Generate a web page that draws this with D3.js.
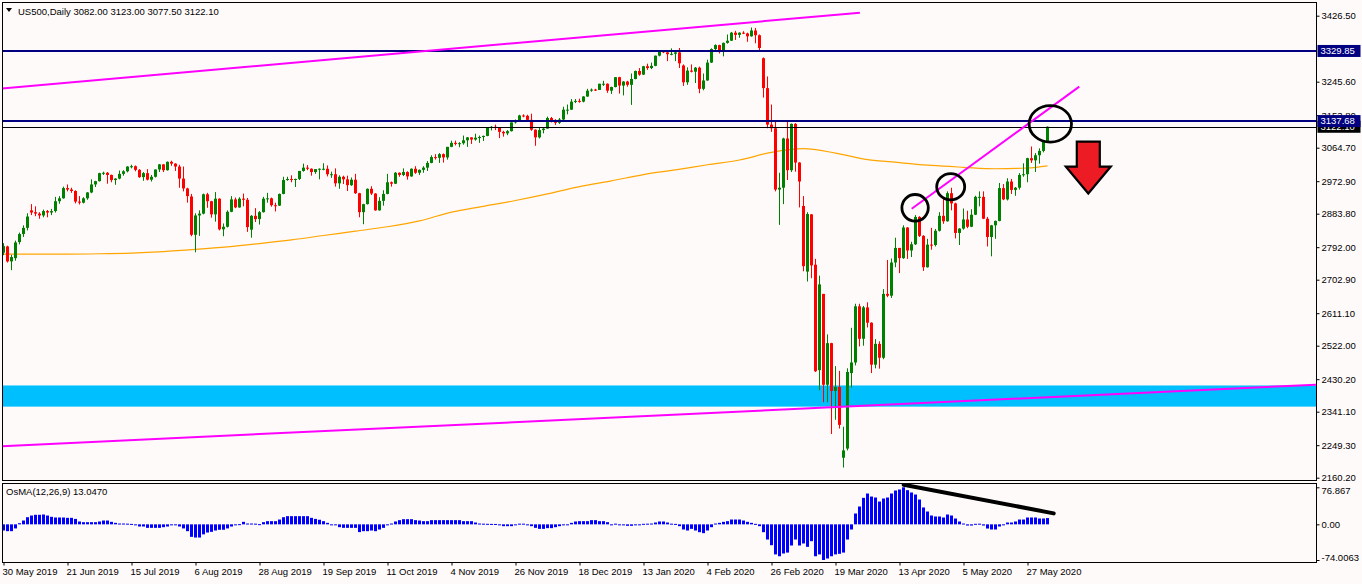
<!DOCTYPE html>
<html><head><meta charset="utf-8">
<script src="https://cdn.jsdelivr.net/npm/d3@7"></script>
<style>
body{margin:0;background:#fffafa;}
svg{display:block;}
text{font-family:"Liberation Sans",Arial,sans-serif;}
</style>
</head><body>
<svg id="chart" width="1362" height="584"></svg>
<script>
// ---------------- DATA ----------------
const symbolTitle = "US500,Daily";
const lastOHLC = ["3082.00", "3123.00", "3077.50", "3122.10"];
const osmaTitle = "OsMA(12,26,9) 13.0470";

const tickBars = [0,16,32,48,64,80,96,112,128,144,160,176,192,208,224,240,256];
const dateLabels = ["30 May 2019","21 Jun 2019","15 Jul 2019","6 Aug 2019","28 Aug 2019","19 Sep 2019",
  "11 Oct 2019","4 Nov 2019","26 Nov 2019","18 Dec 2019","13 Jan 2020","4 Feb 2020","26 Feb 2020",
  "19 Mar 2020","13 Apr 2020","5 May 2020","27 May 2020"];

const opens = [
2777,2794,2753,2762,2806,2828,2845,2893,2888,2884,
2879,2891,2887,2891,2918,2926,2954,2950,2946,2917,
2914,2926,2942,2964,2973,2995,2996,2990,2976,2980,
2993,3000,3013,3014,3004,2984,2995,2977,2985,3005,
3019,3003,3026,3021,3013,2980,2953,2931,2826,2879,
2884,2937,2918,2882,2925,2841,2848,2889,2923,2901,
2925,2922,2840,2878,2869,2888,2925,2926,2907,2906,
2938,2976,2979,2978,2979,3001,3010,3007,2998,3006,
3007,3007,2992,2992,2967,2985,2978,2962,2977,2940,
2888,2910,2952,2939,2893,2919,2938,2970,2966,2996,
2990,2998,2986,3007,2996,3004,3010,3023,3039,3037,
3047,3038,3067,3078,3075,3077,3085,3093,3087,3092,
3094,3097,3120,3122,3120,3108,3104,3110,3134,3140,
3153,3152,3141,3114,3093,3113,3117,3146,3136,3133,
3142,3169,3169,3191,3193,3191,3205,3221,3224,3223,
3240,3240,3221,3231,3258,3235,3246,3237,3253,3275,
3265,3288,3283,3289,3317,3330,3326,3321,3322,3326,
3290,3244,3276,3273,3284,3226,3249,3298,3335,3346,
3328,3352,3358,3380,3374,3380,3378,3370,3386,3373,
3310,3228,3128,3118,2950,2955,3090,3003,3130,3024,
2905,2725,2882,2744,2455,2664,2415,2529,2398,2409,
2215,2240,2447,2476,2630,2541,2627,2585,2470,2527,
2489,2664,2659,2750,2790,2762,2846,2783,2800,2875,
2823,2737,2799,2798,2837,2878,2863,2940,2912,2831,
2843,2868,2848,2881,2930,2930,2870,2820,2852,2864,
2954,2923,2972,2949,2955,2990,2992,3036,3030,3044,
3056,3082];

const highs = [
2803,2796,2771,2810,2832,2852,2885,2910,2904,2888,
2895,2894,2897,2930,2932,2958,2964,2955,2948,2932,
2929,2943,2978,2974,2996,2999,2998,2991,2981,3002,
3003,3014,3018,3016,3006,2998,3006,2990,3005,3020,
3020,3027,3029,3022,3018,3013,2955,2938,2885,2893,
2939,2941,2919,2943,2926,2857,2893,2932,2928,2929,
2939,2927,2880,2899,2891,2930,2941,2928,2914,2939,
2985,2985,2989,2980,3001,3021,3017,3008,3006,3008,
3022,3016,2999,3008,2989,2988,2988,2983,2993,2941,
2911,2953,2959,2940,2929,2948,2993,2972,2998,2997,
3008,3000,3008,3014,3005,3014,3028,3044,3047,3050,
3049,3067,3084,3084,3080,3098,3094,3093,3103,3098,
3098,3121,3124,3128,3121,3111,3113,3134,3142,3155,
3156,3155,3158,3115,3120,3120,3150,3149,3143,3146,
3177,3183,3198,3198,3199,3206,3226,3227,3226,3240,
3248,3241,3232,3258,3259,3247,3248,3268,3276,3283,
3289,3295,3298,3317,3330,3332,3329,3337,3327,3338,
3293,3285,3293,3286,3287,3268,3306,3337,3348,3347,
3353,3375,3382,3385,3381,3384,3380,3394,3393,3375,
3312,3260,3183,3140,2996,3092,3137,3131,3132,3025,
2932,2888,2883,2760,2714,2664,2553,2530,2466,2453,
2300,2460,2571,2637,2637,2631,2641,2586,2540,2534,
2677,2757,2761,2818,2790,2852,2847,2807,2880,2877,
2825,2815,2845,2842,2888,2926,2945,2955,2914,2844,
2898,2892,2896,2933,2945,2945,2875,2853,2865,2968,
2965,2981,2979,2957,2995,3022,3037,3068,3050,3063,
3082,3123];

const lows = [
2770,2750,2729,2755,2800,2820,2838,2880,2877,2870,
2874,2874,2880,2887,2911,2925,2945,2941,2912,2909,
2912,2922,2940,2957,2972,2990,2966,2970,2963,2978,
2988,2997,3008,3000,2982,2974,2975,2972,2983,2998,
2998,3002,3015,3001,2955,2945,2914,2822,2778,2823,
2882,2900,2873,2862,2838,2822,2846,2888,2899,2900,
2904,2834,2818,2861,2854,2887,2914,2903,2890,2905,
2937,2974,2970,2957,2976,2999,3003,2988,2993,2978,
3003,2986,2982,2958,2952,2965,2946,2960,2938,2874,
2855,2909,2935,2892,2892,2906,2937,2958,2965,2985,
2987,2977,2985,2993,2990,2996,3001,3022,3032,3023,
3024,3032,3066,3071,3066,3073,3067,3075,3084,3078,
3083,3096,3112,3113,3091,3095,3099,3109,3131,3139,
3148,3137,3111,3070,3090,3104,3117,3134,3127,3130,
3137,3156,3168,3187,3188,3189,3204,3218,3220,3223,
3234,3215,3212,3230,3213,3208,3232,3182,3252,3262,
3264,3278,3280,3288,3315,3324,3302,3318,3302,3283,
3234,3237,3271,3242,3214,3222,3248,3297,3332,3323,
3315,3350,3357,3360,3366,3376,3355,3369,3351,3329,
3202,3118,3108,2945,2853,2910,2976,2998,2999,2901,
2726,2698,2707,2450,2400,2367,2367,2280,2319,2295,
2188,2235,2407,2468,2520,2522,2572,2447,2460,2459,
2485,2655,2653,2737,2721,2760,2760,2765,2798,2820,
2727,2736,2785,2794,2835,2856,2862,2893,2816,2798,
2840,2844,2847,2880,2904,2869,2794,2767,2815,2863,
2921,2920,2938,2933,2950,2985,2970,3023,2998,3021,
3052,3077.5];

const closes = [
2795,2753,2765,2805,2828,2845,2876,2887,2884,2879,
2891,2887,2891,2918,2926,2954,2950,2946,2917,2914,
2926,2942,2964,2973,2995,2996,2990,2976,2980,2993,
3000,3013,3014,3004,2984,2995,2977,2985,3005,3019,
3003,3026,3021,3013,2980,2953,2932,2826,2879,2884,
2937,2918,2882,2925,2841,2848,2889,2923,2901,2925,
2922,2847,2878,2869,2888,2925,2926,2907,2906,2938,
2976,2979,2978,2979,3001,3010,3007,2998,3006,3007,
3007,2992,2992,2967,2985,2978,2962,2977,2940,2888,
2910,2952,2939,2893,2919,2938,2970,2966,2996,2990,
2998,2986,3007,2996,3004,3010,3023,3039,3037,3047,
3038,3067,3078,3075,3077,3085,3093,3087,3092,3094,
3097,3120,3122,3120,3108,3104,3110,3134,3140,3153,
3152,3141,3114,3093,3113,3117,3146,3136,3133,3142,
3169,3169,3191,3193,3191,3205,3221,3224,3223,3240,
3240,3221,3231,3258,3235,3246,3237,3253,3275,3265,
3288,3283,3289,3317,3330,3326,3321,3322,3326,3296,
3244,3276,3273,3284,3226,3249,3298,3335,3346,3328,
3352,3358,3380,3374,3380,3378,3370,3386,3373,3338,
3228,3128,3118,2950,2955,3090,3003,3130,3024,2972,
2740,2883,2742,2452,2690,2415,2529,2398,2409,2305,
2235,2450,2476,2630,2541,2627,2585,2470,2527,2489,
2664,2659,2750,2790,2762,2846,2783,2800,2875,2823,
2737,2799,2798,2837,2878,2863,2940,2912,2831,2843,
2868,2848,2881,2930,2930,2870,2820,2852,2864,2954,
2923,2972,2949,2955,2990,2992,3036,3030,3044,3056,
3082,3122.1];

const osma = [
-12.8,-14.2,-14.2,-8.5,2.4,7.9,14.8,18.3,19.8,19.8,
20.4,18.3,15.6,14.2,14.2,14.2,13.5,13.5,11.3,5.9,
4.5,4.5,4.5,4.5,5.9,7.9,7.9,5.2,3.1,1.7,
1.7,1.4,0.9,-0.5,-4.5,-4.5,-7.3,-7.3,-7.3,-7.3,
-5.9,-4.5,-1.7,-0.5,-4.5,-8.5,-14.2,-26,-27.4,-27.4,
-20.8,-17,-15.6,-12.8,-11.3,-11.3,-8.5,-4.5,-1.7,0.4,
5.2,1.7,1.7,1.4,0.4,4.5,6.6,6.6,6.6,10,
14.8,17,17,17,17,17,17,13.5,11.3,9.5,
6.6,3.1,-0.5,-1.7,-5.9,-7.3,-7.3,-7.3,-7.3,-16.1,
-14.2,-14.2,-12.8,-14.2,-10.7,-7.3,-1.7,1.7,5.9,8.7,
10.7,10.7,10.7,8.7,7.9,6.6,6.6,8.7,8.7,8.7,
8.7,8.7,8.7,8.7,8.7,6.6,6.6,6.6,3.8,1.7,
1.4,1.1,0.9,0.8,-1.7,-3.8,-3.8,-3.8,-1.7,1.4,
1.4,-0.9,-3.8,-7.3,-9.4,-9.4,-7.9,-7.9,-5.9,-3.8,
-1.7,-0.8,3.1,5.9,6.6,6.6,6.6,8.7,8.7,6.6,
6.6,4.5,-0.8,1.4,-0.8,-0.9,-3.1,-3.1,-0.9,-0.9,
1.1,1.4,1.7,3.8,5.9,5.9,3.8,1.4,0.9,-3.8,
-10.7,-12.8,-9.4,-12.8,-16.3,-18.3,-12.8,-5.9,1.7,3.1,
5.2,6.6,10,10,10,7.9,5.2,3.1,1,-3.8,
-16.3,-31.5,-43.3,-62.4,-66.2,-60.5,-58.6,-43.9,-31.5,-43.9,
-39.7,-46.7,-35,-66.2,-62.4,-74.0063,-70.9,-66.2,-62.4,-61.2,
-58.6,-31.5,-10.7,22.5,37,55,64,57.7,55.7,47.3,
53.6,55.7,64,70.2,72.3,76.867,70.9,66.1,61.9,51.5,
35,26.6,18.3,16.3,16.3,14.2,20.4,18.3,12.1,5.9,
1.7,-2.5,-2.5,1.1,1.4,-2.5,-8.7,-10.7,-10.7,-4.5,
-1.7,3.8,3.8,5.9,10,10,14.2,14.2,14.2,12.1,
12.1,13.047];

// 200-period moving average read at sample bars
const maBars   = [0,8,16,24,32,40,48,56,64,72,80,88,96,104,112,120,128,136,144,152,160,168,176,184,192,200,208,216,224,232,240,248,256,261];
const maValues = [2773,2773,2773,2774,2776,2780,2786,2793,2802,2812,2824,2836,2848,2864,2888,2904,2920,2938,2958,2974,2991,3004,3018,3031,3052,3062,3050,3032,3024,3016,3011,3007,3009,3015];

const priceTicks = [3426.50,3245.60,3153.80,3064.70,2972.90,2883.80,2792.00,2702.90,2611.10,2522.00,2430.20,2341.10,2249.30,2160.20];
const osmaTicks = [76.867, 0, -74.0063];
const osmaTickLabels = ["76.867", "0.00", "-74.0063"];
const levelLines = [3329.85, 3137.68];
const bidPrice = 3122.10;
const supportZone = [2355, 2413];
const channelUpper = [[-0.4, 3227], [214.1, 3434.7]];
const channelLower = [[-0.4, 2246.6], [328.1, 2415.3]];
const wedgeLine = [[227.05, 2897.3], [268.95, 3232.1]];
// [bar, price, radius in bars, radius in price]
const circles = [[227.9, 2900, 3.3, 36.4], [236.8, 2957.6, 3.5, 36], [261.7, 3130, 5.3, 50]];
const arrowAnchor = [271.2, 3081.6];
const osmaTrend = [[225.05, 82.2], [262.55, 22.8]];

// ---------------- LAYOUT ----------------
const W = 1362, H = 584;
const L = 2.5, R = 1316.5, T = 2.5, MB = 480.5, OT = 483.5, OB = 562.5;

const svg = d3.select("#chart");
svg.append("rect").attr("width", W).attr("height", H).attr("fill", "#fffafa");

const x = d3.scaleLinear().domain([0, 261]).range([3.5, 1047.5]);
const y = d3.scaleLinear().domain([2160.2, 3426.5]).range([477.7, 15.7]);
const yo = d3.scaleLinear().domain([-74.0063, 76.867]).range([560, 487.3]);

const defs = svg.append("defs");
defs.append("clipPath").attr("id", "mainClip").append("rect")
  .attr("x", L).attr("y", T).attr("width", R - L).attr("height", MB - T);
defs.append("clipPath").attr("id", "oscClip").append("rect")
  .attr("x", L).attr("y", OT).attr("width", R - L).attr("height", OB - OT);

const main = svg.append("g").attr("clip-path", "url(#mainClip)");

// support zone
main.append("rect")
  .attr("x", L).attr("width", R - L)
  .attr("y", y(supportZone[1])).attr("height", y(supportZone[0]) - y(supportZone[1]))
  .attr("fill", "#00bfff");

// moving average
const maPts = maBars.map((b, i) => [b, maValues[i]]);
main.append("path").datum(maPts)
  .attr("d", d3.line().x(d => x(d[0])).y(d => y(d[1])).curve(d3.curveMonotoneX))
  .attr("fill", "none").attr("stroke", "#ffa500").attr("stroke-width", 1.2);

// candles
const bars = closes.map((c, i) => ({ i, o: opens[i], h: highs[i], l: lows[i], c }));
const cg = main.append("g");
cg.selectAll("line").data(bars).join("line")
  .attr("x1", d => x(d.i)).attr("x2", d => x(d.i))
  .attr("y1", d => y(d.h)).attr("y2", d => y(d.l))
  .attr("stroke", d => d.c >= d.o ? "#008000" : "#ff0000").attr("stroke-width", 1);
cg.selectAll("rect").data(bars).join("rect")
  .attr("x", d => x(d.i) - 1.5).attr("width", 3)
  .attr("y", d => y(Math.max(d.o, d.c)))
  .attr("height", d => Math.max(1, Math.abs(y(d.o) - y(d.c))))
  .attr("fill", d => d.c >= d.o ? "#008000" : "#ff0000");

// level lines
main.selectAll("line.lvl").data(levelLines).join("line").attr("class", "lvl")
  .attr("x1", L).attr("x2", R).attr("y1", d => y(d)).attr("y2", d => y(d))
  .attr("stroke", "#000080").attr("stroke-width", 2);
main.append("line").attr("x1", L).attr("x2", R)
  .attr("y1", Math.round(y(bidPrice)) + 0.5).attr("y2", Math.round(y(bidPrice)) + 0.5)
  .attr("stroke", "#000").attr("stroke-width", 1);

// trend lines
[channelUpper, channelLower, wedgeLine].forEach(seg => {
  main.append("line")
    .attr("x1", x(seg[0][0])).attr("y1", y(seg[0][1]))
    .attr("x2", x(seg[1][0])).attr("y2", y(seg[1][1]))
    .attr("stroke", "#ff00ff").attr("stroke-width", 2);
});

// circles
main.selectAll("ellipse").data(circles).join("ellipse")
  .attr("cx", d => x(d[0])).attr("cy", d => y(d[1]))
  .attr("rx", d => x(d[2]) - x(0)).attr("ry", d => y(0 + 2160.2) - y(2160.2 + d[3]))
  .attr("fill", "none").attr("stroke", "#000").attr("stroke-width", 2.8);

// arrow
const ax = x(arrowAnchor[0]), ay = y(arrowAnchor[1]);
main.append("path")
  .attr("transform", `translate(${ax},${ay})`)
  .attr("d", "M-11.5,0 L11.5,0 L11.5,25 L22.5,25 L0,52 L-22.5,25 L-11.5,25 Z")
  .attr("fill", "#ed1c24").attr("stroke", "#000").attr("stroke-width", 2.2).attr("stroke-linejoin", "miter");

// ---------------- OSMA ----------------
const osc = svg.append("g").attr("clip-path", "url(#oscClip)");
osc.selectAll("rect").data(osma).join("rect")
  .attr("x", (d, i) => x(i) - 1.5).attr("width", 3)
  .attr("y", d => d >= 0 ? yo(d) : yo(0))
  .attr("height", d => Math.max(1, Math.abs(yo(d) - yo(0))))
  .attr("fill", "#0000ff");
osc.append("line")
  .attr("x1", x(osmaTrend[0][0])).attr("y1", yo(osmaTrend[0][1]))
  .attr("x2", x(osmaTrend[1][0])).attr("y2", yo(osmaTrend[1][1]))
  .attr("stroke", "#000").attr("stroke-width", 4).attr("stroke-linecap", "round");

// ---------------- FRAMES ----------------
const fr = svg.append("g").attr("fill", "none").attr("stroke", "#000").attr("stroke-width", 1);
fr.append("rect").attr("x", L).attr("y", T).attr("width", R - L).attr("height", MB - T);
fr.append("rect").attr("x", L).attr("y", OT).attr("width", R - L).attr("height", OB - OT);

// ---------------- AXES ----------------
const fontSize = "9.5px";
const yAxis = svg.append("g").attr("transform", `translate(${R},0)`)
  .call(d3.axisRight(y).tickValues(priceTicks).tickSize(3).tickPadding(2).tickFormat(d3.format(".2f")));
yAxis.select(".domain").remove();
yAxis.selectAll("text").attr("font-size", fontSize).attr("fill", "#000").attr("font-family", "Liberation Sans, Arial, sans-serif");
yAxis.selectAll("line").attr("stroke", "#000");

const oAxis = svg.append("g").attr("transform", `translate(${R},0)`)
  .call(d3.axisRight(yo).tickValues(osmaTicks).tickSize(3).tickPadding(2).tickFormat((d, i) => osmaTickLabels[i]));
oAxis.select(".domain").remove();
oAxis.selectAll("text").attr("font-size", fontSize).attr("fill", "#000").attr("font-family", "Liberation Sans, Arial, sans-serif")
  .attr("dy", (d, i) => i === 0 ? "0.62em" : (i === 2 ? "0.05em" : "0.32em"));
oAxis.selectAll("line").attr("stroke", "#000");

const xAxis = svg.append("g").attr("transform", `translate(0,${OB})`)
  .call(d3.axisBottom(x).tickValues(tickBars).tickSize(3).tickPadding(3).tickFormat((d, i) => dateLabels[i]));
xAxis.select(".domain").remove();
xAxis.selectAll("text").attr("font-size", fontSize).attr("fill", "#000").attr("text-anchor", "start")
  .attr("dx", "-1.5").attr("font-family", "Liberation Sans, Arial, sans-serif");
xAxis.selectAll("line").attr("stroke", "#000");

// price label boxes
function priceBox(p, fill) {
  const g = svg.append("g").attr("transform", `translate(${R + 1},${y(p)})`);
  g.append("rect").attr("x", 0).attr("y", -6).attr("width", 43).attr("height", 12).attr("fill", fill);
  g.append("text").attr("x", 3).attr("y", 0).attr("dy", "0.34em").attr("font-size", fontSize)
    .attr("fill", "#fff").text(d3.format(".2f")(p));
}
priceBox(bidPrice, "#000");
levelLines.forEach(p => priceBox(p, "#000080"));

// header
svg.append("path").attr("d", "M6,8 L12,8 L9,12 Z").attr("fill", "#000");
svg.append("text").attr("x", 18).attr("y", 14.5).attr("font-size", fontSize).attr("fill", "#000")
  .text(symbolTitle + "  " + lastOHLC.join(" "));
svg.append("text").attr("x", 6).attr("y", 495).attr("font-size", fontSize).attr("fill", "#000")
  .text(osmaTitle);
</script>
</body></html>
